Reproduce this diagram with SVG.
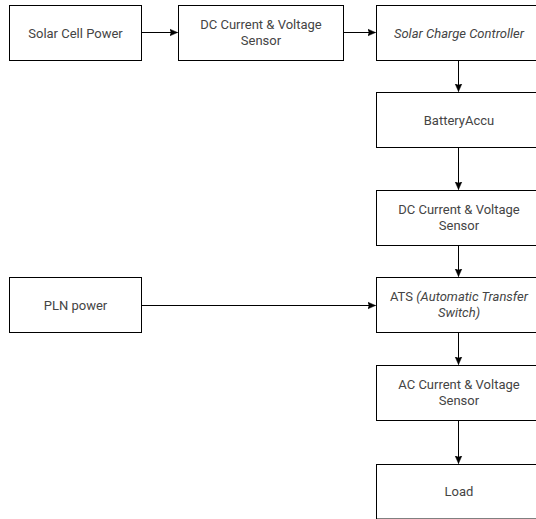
<svg xmlns="http://www.w3.org/2000/svg" width="536" height="519" viewBox="0 0 536 519">
<defs>
<style>
.box{fill:#fff;stroke:#000;stroke-width:1}
.t{font-family:Roboto,"Liberation Sans",sans-serif;font-size:13px;fill:#444;text-anchor:middle}
.i{font-style:italic}
.c{fill:none;stroke:#000;stroke-width:1}
</style>
<marker id="a" markerUnits="userSpaceOnUse" markerWidth="10" markerHeight="10" refX="8" refY="5" orient="auto">
<path d="M0,1.5 L8,5 L0,8.5 L1.8,5 Z" fill="#000" stroke="#000" stroke-width="0.5"/>
</marker>
</defs>
<rect width="536" height="519" fill="#fff"/>
<g id="connectors">
<path class="c" d="M141.5,32.5 H177.5" marker-end="url(#a)"/>
<path class="c" d="M343.5,32.5 H375.5" marker-end="url(#a)"/>
<path class="c" d="M458.5,60.5 V91.5" marker-end="url(#a)"/>
<path class="c" d="M458.5,147.5 V189.5" marker-end="url(#a)"/>
<path class="c" d="M458.5,245.5 V276.5" marker-end="url(#a)"/>
<path class="c" d="M141.5,305.5 H375.5" marker-end="url(#a)"/>
<path class="c" d="M458.5,332.5 V364.5" marker-end="url(#a)"/>
<path class="c" d="M458.5,420.5 V463.5" marker-end="url(#a)"/>
</g>
<g id="solar-cell">
<rect class="box" x="9.5" y="5.5" width="132" height="55"/>
<text class="t" x="75.5" y="37.5">Solar Cell Power</text>
</g>
<g id="dc-sensor-1">
<rect class="box" x="178.5" y="5.5" width="165" height="55"/>
<text class="t" x="261" y="28.5">DC Current &amp; Voltage</text>
<text class="t" x="261" y="45">Sensor</text>
</g>
<g id="charge-controller">
<rect class="box" x="376.5" y="5.5" width="165" height="55"/>
<text class="t i" x="459" y="37.5">Solar Charge Controller</text>
</g>
<g id="battery">
<rect class="box" x="376.5" y="92.5" width="165" height="55"/>
<text class="t" x="459" y="124.5">BatteryAccu</text>
</g>
<g id="dc-sensor-2">
<rect class="box" x="376.5" y="190.5" width="165" height="55"/>
<text class="t" x="459" y="213.5">DC Current &amp; Voltage</text>
<text class="t" x="459" y="230">Sensor</text>
</g>
<g id="pln">
<rect class="box" x="9.5" y="277.5" width="132" height="55"/>
<text class="t" x="75.5" y="309.5">PLN power</text>
</g>
<g id="ats">
<rect class="box" x="376.5" y="277.5" width="165" height="55"/>
<text class="t" x="459" y="300.5">ATS <tspan class="i">(Automatic Transfer</tspan></text>
<text class="t i" x="459" y="317">Switch)</text>
</g>
<g id="ac-sensor">
<rect class="box" x="376.5" y="365.5" width="165" height="55"/>
<text class="t" x="459" y="388.5">AC Current &amp; Voltage</text>
<text class="t" x="459" y="405">Sensor</text>
</g>
<g id="load">
<rect class="box" x="376.5" y="464.5" width="165" height="54.5"/>
<text class="t" x="459" y="496">Load</text>
</g>
</svg>
